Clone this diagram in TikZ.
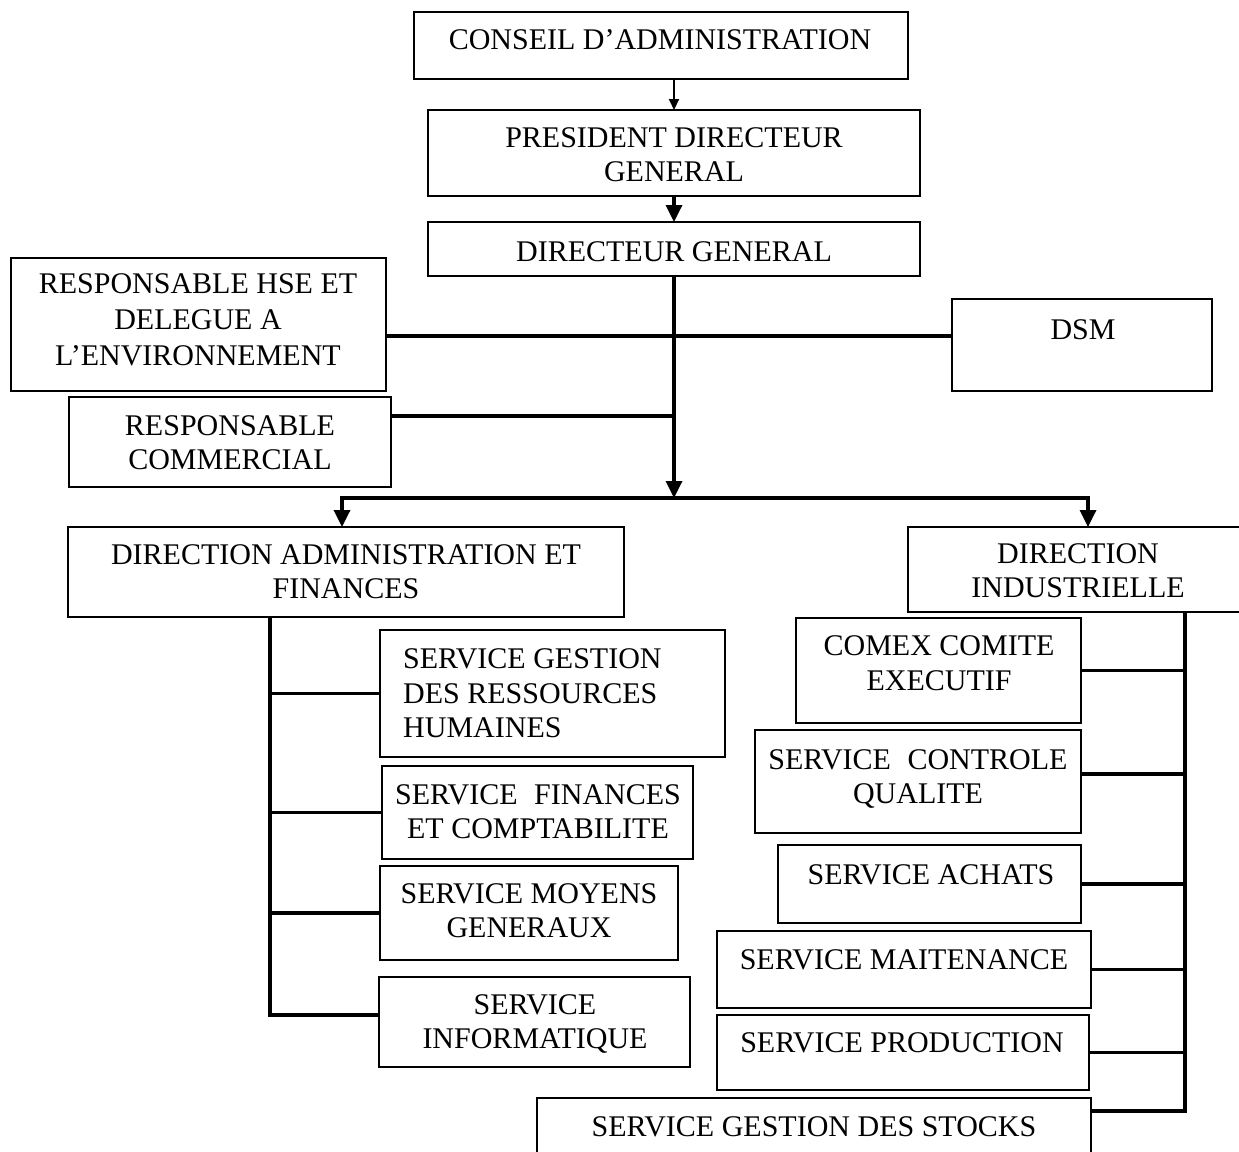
\documentclass[tikz,border=0pt]{standalone}
\usepackage{fontspec}
\setmainfont{Liberation Serif}
\usetikzlibrary{arrows.meta}

\begin{document}
\begin{tikzpicture}[x=1pt, y=-1pt,
  frame/.style n args={2}{draw, line width=2.4pt, inner sep=0pt, outer sep=0pt,
    minimum width=#1, minimum height=#2},
  txt/.style={font=\fontsize{30}{34.5}\selectfont, align=center, inner sep=0pt,
    yshift=-4.5pt, execute at begin node=\strut, execute at end node=\strut},
  conn/.style={line width=3.4pt, line join=miter},
  arr/.style={conn, -{Triangle[width=16pt,length=17pt]}},
  thinarr/.style={line width=2pt, -{Triangle[width=10pt,length=11pt]}}
]
\useasboundingbox (0,0) rectangle (1239,1151);

% --- boxes (centre, width, height) ---
\node[frame={494pt}{67pt}]  (ca)    at (661,45.5)   {};
\node[frame={492pt}{86pt}]  (pdg)   at (674,153)    {};
\node[frame={492pt}{54pt}]  (dg)    at (674,249)    {};
\node[frame={375pt}{133pt}] (hse)   at (198.5,324.5) {};
\node[frame={260pt}{92pt}]  (dsm)   at (1082,345)   {};
\node[frame={322pt}{90pt}]  (rc)    at (230,442)    {};
\node[frame={556pt}{90pt}]  (daf)   at (346,572)    {};
\node[frame={336pt}{85pt}]  (di)    at (1076,569.5) {};
\node[frame={345pt}{127pt}] (sgrh)  at (552.5,693.5) {};
\node[frame={311pt}{93pt}]  (sfc)   at (537.5,812.5) {};
\node[frame={298pt}{94pt}]  (smg)   at (529,913)    {};
\node[frame={311pt}{90pt}]  (si)    at (534.5,1022) {};
\node[frame={285pt}{105pt}] (comex) at (938.5,670.5) {};
\node[frame={326pt}{103pt}] (scq)   at (918,781.5)  {};
\node[frame={303pt}{78pt}]  (ach)   at (929.5,884)  {};
\node[frame={374pt}{77pt}]  (mnt)   at (904,969.5)  {};
\node[frame={372pt}{75pt}]  (prd)   at (903,1052.5) {};
\node[frame={554pt}{72pt}]  (stk)   at (814,1134)   {};

% --- labels ---
\node[txt] (tca)    at (660,38)   {CONSEIL D’ADMINISTRATION};
\node[txt] (tpdg)   at (674,155)  {PRESIDENT DIRECTEUR\\GENERAL};
\node[txt] (tdg)    at (674,250)  {DIRECTEUR GENERAL};
\node[txt, font=\fontsize{30}{36}\selectfont] (thse) at (198,320) {RESPONSABLE HSE ET\\DELEGUE A\\L’ENVIRONNEMENT};
\node[txt] (tdsm)   at (1083,328) {DSM};
\node[txt] (trc)    at (230,443)  {RESPONSABLE\\COMMERCIAL};
\node[txt] (tdaf)   at (346,572)  {DIRECTION ADMINISTRATION ET\\FINANCES};
\node[txt] (tdi)    at (1078,571) {DIRECTION\\INDUSTRIELLE};
\node[txt, align=left, anchor=west] (tsgrh) at (403,694) {SERVICE GESTION\\DES RESSOURCES\\HUMAINES};
\node[txt] (tsfc)   at (538,812)  {SERVICE\hspace{0.3em} FINANCES\\ET COMPTABILITE};
\node[txt] (tsmg)   at (529,911)  {SERVICE MOYENS\\GENERAUX};
\node[txt] (tsi)    at (535,1022) {SERVICE\\INFORMATIQUE};
\node[txt] (tcomex) at (939,663.5) {COMEX COMITE\\EXECUTIF};
\node[txt] (tscq)   at (918,777)  {SERVICE\hspace{0.3em} CONTROLE\\QUALITE};
\node[txt] (tach)   at (931,873)  {SERVICE ACHATS};
\node[txt] (tmnt)   at (904,958)  {SERVICE MAITENANCE};
\node[txt] (tprd)   at (902,1041) {SERVICE PRODUCTION};
\node[txt] (tstk)   at (814,1125) {SERVICE GESTION DES STOCKS};

% --- junction points ---
\coordinate (hj) at (674,336);
\coordinate (rj) at (674,416);
\coordinate (bar) at (674,498);
\coordinate (bl) at (342,498);
\coordinate (br) at (1088,498);
\coordinate (lb) at (270,1015);
\coordinate (rb) at (1185,1111);
\coordinate (rq) at (1185,774);

% --- top chain ---
\draw[thinarr] (pdg.north |- ca.south) -- (pdg.north);
\draw[arr] (pdg.south) -- (dg.north);
\draw[arr] (dg.south) -- (bar);

% --- staff positions ---
\draw[conn] (hse.east |- hj) -- (dsm.west |- hj);
\draw[conn] (rc.east |- rj) -- (rj);

% --- split to the two directions ---
\draw[conn, {Triangle[width=16pt,length=17pt]}-{Triangle[width=16pt,length=17pt]}]
  (daf.north -| bl) -- (bl) -- (br) -- (di.north -| br);

% --- administration & finances services ---
\draw[conn] (daf.south -| lb) -- (lb) -- (si.west |- lb);
\draw[conn] (lb |- sgrh.west) -- (sgrh.west);
\draw[conn] (lb |- sfc.west) -- (sfc.west);
\draw[conn] (lb |- smg.west) -- (smg.west);

% --- industrial services ---
\draw[conn] (di.south -| rb) -- (rb) -- (stk.east |- rb);
\draw[conn] (comex.east) -- (rb |- comex.east);
\draw[conn] (scq.east |- rq) -- (rq);
\draw[conn] (ach.east) -- (rb |- ach.east);
\draw[conn] (mnt.east) -- (rb |- mnt.east);
\draw[conn] (prd.east) -- (rb |- prd.east);
\end{tikzpicture}
\end{document}
